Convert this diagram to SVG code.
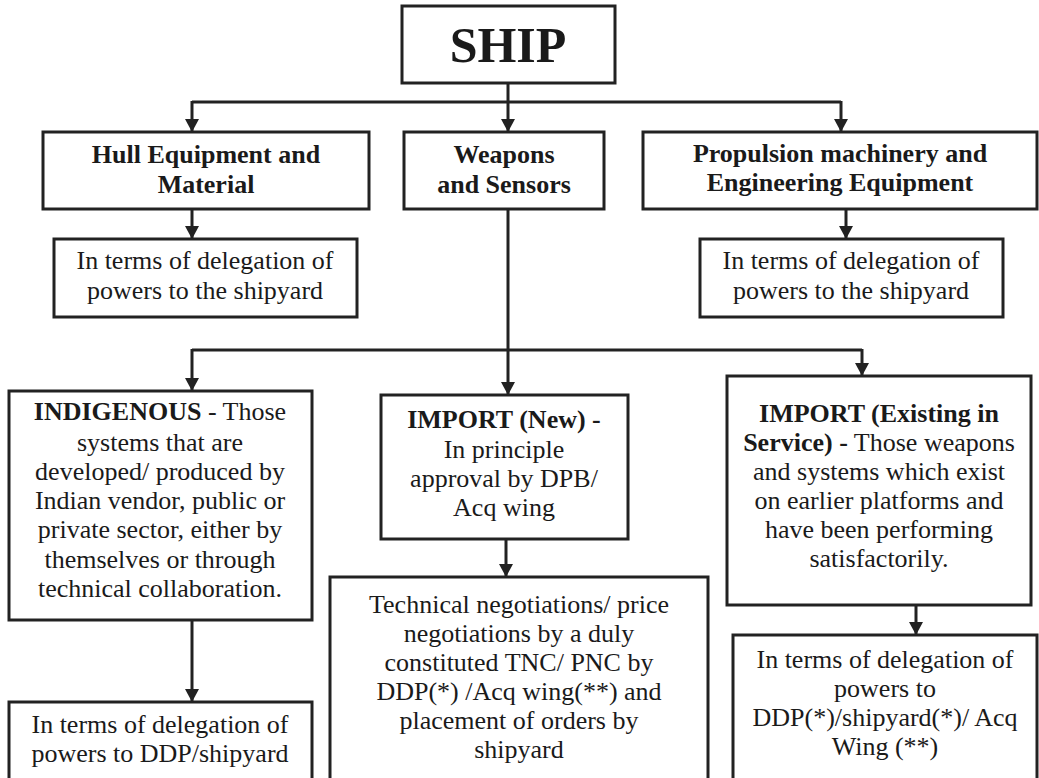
<svg xmlns="http://www.w3.org/2000/svg" width="1039" height="778" viewBox="0 0 1039 778">
<style>
.box{fill:#fff;stroke:#222;stroke-width:3}
.t{font-family:"Liberation Serif","Times New Roman",serif;font-size:26px;fill:#1a1a1a;text-anchor:middle}
.b{font-weight:bold}
.c{fill:none;stroke:#222;stroke-width:3}
</style>
<defs>
<marker id="ah" markerUnits="userSpaceOnUse" markerWidth="14" markerHeight="14" viewBox="0 0 14 14" refX="7" refY="14" orient="auto-start-reverse">
<path d="M0 0 L14 0 L7 14 Z" fill="#222" transform="rotate(0)"/>
</marker>
<marker id="ad" markerUnits="userSpaceOnUse" markerWidth="14" markerHeight="14" viewBox="0 0 14 14" refX="7" refY="12" orient="0">
<path d="M0 0 L14 0 L7 13 Z" fill="#222"/>
</marker>
</defs>
<rect width="1039" height="778" fill="#fff"/>
<g id="connectors">
<path class="c" d="M508 83 V131" marker-end="url(#ad)"/>
<path class="c" d="M192 102 H841"/>
<path class="c" d="M192 101 V131" marker-end="url(#ad)"/>
<path class="c" d="M841 101 V131" marker-end="url(#ad)"/>
<path class="c" d="M192 209 V238" marker-end="url(#ad)"/>
<path class="c" d="M846 209 V238" marker-end="url(#ad)"/>
<path class="c" d="M508 209 V394" marker-end="url(#ad)"/>
<path class="c" d="M192 350 H862"/>
<path class="c" d="M192 349 V390" marker-end="url(#ad)"/>
<path class="c" d="M862 349 V375" marker-end="url(#ad)"/>
<path class="c" d="M506 539 V576" marker-end="url(#ad)"/>
<path class="c" d="M192 620 V701" marker-end="url(#ad)"/>
<path class="c" d="M916 605 V634" marker-end="url(#ad)"/>
</g>
<g id="ship">
<rect class="box" x="402" y="6" width="213" height="77"/>
<text class="t b" x="508" y="62" style="font-size:50px">SHIP</text>
</g>
<g id="hull">
<rect class="box" x="43" y="132" width="326" height="77"/>
<text class="t b" x="206" y="163">Hull Equipment and</text>
<text class="t b" x="206" y="193">Material</text>
</g>
<g id="weapons">
<rect class="box" x="404" y="132" width="200" height="77"/>
<text class="t b" x="504" y="163">Weapons</text>
<text class="t b" x="504" y="193">and Sensors</text>
</g>
<g id="propulsion">
<rect class="box" x="643" y="132" width="394" height="77"/>
<text class="t b" x="840" y="162">Propulsion machinery and</text>
<text class="t b" x="840" y="191">Engineering Equipment</text>
</g>
<g id="hull-powers">
<rect class="box" x="54" y="239" width="303" height="78"/>
<text class="t" x="205" y="269">In terms of delegation of</text>
<text class="t" x="205" y="299">powers to the shipyard</text>
</g>
<g id="prop-powers">
<rect class="box" x="700" y="239" width="303" height="78"/>
<text class="t" x="851" y="269">In terms of delegation of</text>
<text class="t" x="851" y="299">powers to the shipyard</text>
</g>
<g id="indigenous">
<rect class="box" x="9" y="391" width="303" height="229"/>
<text class="t" x="160" y="420"><tspan class="b">INDIGENOUS</tspan> - Those</text>
<text class="t" x="160" y="451">systems that are</text>
<text class="t" x="160" y="480">developed/ produced by</text>
<text class="t" x="160" y="509">Indian vendor, public or</text>
<text class="t" x="160" y="538">private sector, either by</text>
<text class="t" x="160" y="568">themselves or through</text>
<text class="t" x="160" y="597">technical collaboration.</text>
</g>
<g id="indigenous-powers">
<rect class="box" x="9" y="702" width="303" height="90"/>
<text class="t" x="160" y="733">In terms of delegation of</text>
<text class="t" x="160" y="762">powers to DDP/shipyard</text>
</g>
<g id="import-new">
<rect class="box" x="381" y="395" width="247" height="144"/>
<text class="t b" x="504" y="428">IMPORT (New) -</text>
<text class="t" x="504" y="458">In principle</text>
<text class="t" x="504" y="487">approval by DPB/</text>
<text class="t" x="504" y="516">Acq wing</text>
</g>
<g id="negotiations">
<rect class="box" x="330" y="577" width="378" height="215"/>
<text class="t" x="519" y="613">Technical negotiations/ price</text>
<text class="t" x="519" y="642">negotiations by a duly</text>
<text class="t" x="519" y="671">constituted TNC/ PNC by</text>
<text class="t" x="519" y="700">DDP(*) /Acq wing(**) and</text>
<text class="t" x="519" y="729">placement of orders by</text>
<text class="t" x="519" y="758">shipyard</text>
</g>
<g id="import-existing">
<rect class="box" x="727" y="376" width="304" height="229"/>
<text class="t b" x="879" y="422">IMPORT (Existing in</text>
<text class="t" x="879" y="451"><tspan class="b">Service) -</tspan> Those weapons</text>
<text class="t" x="879" y="480">and systems which exist</text>
<text class="t" x="879" y="509">on earlier platforms and</text>
<text class="t" x="879" y="538">have been performing</text>
<text class="t" x="879" y="567">satisfactorily.</text>
</g>
<g id="existing-powers">
<rect class="box" x="733" y="635" width="304" height="157"/>
<text class="t" x="885" y="668">In terms of delegation of</text>
<text class="t" x="885" y="697">powers to</text>
<text class="t" x="885" y="726">DDP(*)/shipyard(*)/ Acq</text>
<text class="t" x="885" y="755">Wing (**)</text>
</g>
</svg>
